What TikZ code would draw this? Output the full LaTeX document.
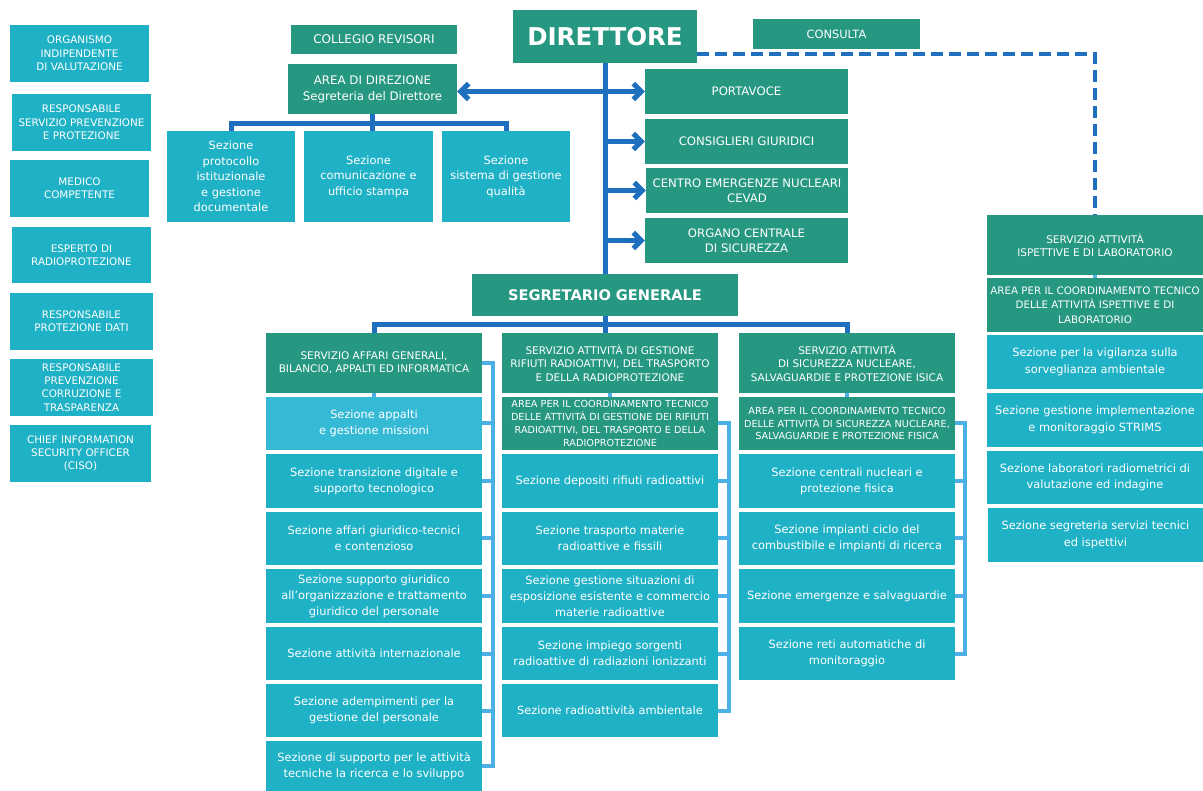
\documentclass[tikz,border=0pt]{standalone}
\usepackage{fontspec}
\setmainfont{DejaVu Sans}
\usetikzlibrary{arrows.meta}
\definecolor{verdeorg}{RGB}{38,152,130}
\definecolor{cianoorg}{RGB}{31,177,198}
\definecolor{cianochiaro}{RGB}{52,186,212}
\definecolor{bluorg}{RGB}{30,112,190}
\definecolor{azzurroorg}{RGB}{76,176,230}
\newcommand\fsz[2]{\fontsize{#1}{#2}\selectfont}

\begin{document}
\begin{tikzpicture}[x=1pt, y=-1pt, line join=miter,
  >={Straight Barb[length=8pt,width=16pt]},
  box/.style 2 args={inner sep=0pt, align=center, text=white, minimum width=#1pt, minimum height=#2pt},
  verde/.style={fill=verdeorg},
  ciano/.style={fill=cianoorg},
  staff/.style={ciano, font=\fsz{10.4}{13.3}},
  staffdir/.style={verde, font=\fsz{11.7}{15}},
  sezdir/.style={ciano, font=\fsz{11.4}{15.4}},
  capo/.style={verde, font=\fsz{10.5}{13.3}},
  area/.style={verde, font=\fsz{9.7}{12.7}},
  sez/.style={ciano, font=\fsz{11.4}{16}},
  linea/.style={draw=bluorg, line width=5pt},
  ramo/.style={draw=azzurroorg, line width=4pt},
  tratteggio/.style={draw=bluorg, line width=4pt, dash pattern=on 12pt off 6pt}]
  \fill[white] (0,0) rectangle (1203,791);
  \useasboundingbox (0,0) rectangle (1203,791);

  % organi di staff a sinistra
  \node[box={139}{57},staff] (oiv) at (79.5,53.5) {ORGANISMO\\INDIPENDENTE\\DI VALUTAZIONE};
  \node[box={139}{57},staff] (rspp) at (81.5,122.5) {RESPONSABILE\\SERVIZIO PREVENZIONE\\E PROTEZIONE};
  \node[box={139}{57},staff] (medico) at (79.5,188.5) {MEDICO\\COMPETENTE};
  \node[box={139}{56},staff] (esperto) at (81.5,255) {ESPERTO DI\\RADIOPROTEZIONE};
  \node[box={143}{57},staff] (rpd) at (81.5,321.5) {RESPONSABILE\\PROTEZIONE DATI};
  \node[box={143}{57},staff] (rpct) at (81.5,387.5) {RESPONSABILE\\PREVENZIONE\\CORRUZIONE E\\TRASPARENZA};
  \node[box={141}{57},staff] (ciso) at (80.5,453.5) {CHIEF INFORMATION\\SECURITY OFFICER\\(CISO)};

  % vertice
  \node[box={184}{53},verde,font=\fsz{24.5}{28}\bfseries] (direttore) at (605,36.5) {DIRETTORE};
  \node[box={166}{29},verde,font=\fsz{12}{14}] (collegio) at (374,39.5) {COLLEGIO REVISORI};
  \node[box={169}{50},verde,font=\fsz{11.8}{16}] (areadir) at (372.5,89) {AREA DI DIREZIONE\\Segreteria del Direttore};
  \node[box={167}{30},verde,font=\fsz{11.4}{14}] (consulta) at (836.5,34) {CONSULTA};
  \node[box={203}{45},staffdir] (portavoce) at (746.5,91.5) {PORTAVOCE};
  \node[box={203}{45},staffdir] (consiglieri) at (746.5,141.5) {CONSIGLIERI GIURIDICI};
  \node[box={202}{45},staffdir] (cevad) at (747,190.5) {CENTRO EMERGENZE NUCLEARI\\CEVAD};
  \node[box={203}{45},staffdir] (ocs) at (746.5,240.5) {ORGANO CENTRALE\\DI SICUREZZA};

  \node[box={128}{91},sezdir] (sprot) at (231,176.5) {Sezione\\protocollo\\istituzionale\\e gestione\\documentale};
  \node[box={129}{91},sezdir] (scom) at (368.5,176.5) {Sezione\\comunicazione e\\ufficio stampa};
  \node[box={128}{91},sezdir] (squal) at (506,176.5) {Sezione\\sistema di gestione\\qualità};

  \node[box={266}{42},verde,font=\fsz{14.6}{17}\bfseries] (segretario) at (605,295) {SEGRETARIO GENERALE};

  % servizio affari generali
  \node[box={216}{60},capo] (sa0) at (374,363) {SERVIZIO AFFARI GENERALI,\\BILANCIO, APPALTI ED INFORMATICA};
  \node[box={216}{53},sez,fill=cianochiaro] (sa1) at (374,423.5) {Sezione appalti\\e gestione missioni};
  \node[box={216}{54},sez] (sa2) at (374,481) {Sezione transizione digitale e\\supporto tecnologico};
  \node[box={216}{53},sez] (sa3) at (374,538.5) {Sezione affari giuridico-tecnici\\e contenzioso};
  \node[box={216}{54},sez] (sa4) at (374,596) {Sezione supporto giuridico\\all’organizzazione e trattamento\\giuridico del personale};
  \node[box={216}{53},sez] (sa5) at (374,653.5) {Sezione attività internazionale};
  \node[box={216}{53},sez] (sa6) at (374,710.5) {Sezione adempimenti per la\\gestione del personale};
  \node[box={216}{50},sez] (sa7) at (374,766) {Sezione di supporto per le attività\\tecniche la ricerca e lo sviluppo};

  % servizio rifiuti radioattivi
  \node[box={216}{60},capo] (sr0) at (610,363) {SERVIZIO ATTIVITÀ DI GESTIONE\\RIFIUTI RADIOATTIVI, DEL TRASPORTO\\E DELLA RADIOPROTEZIONE};
  \node[box={216}{53},area] (sr1) at (610,423.5) {AREA PER IL COORDINAMENTO TECNICO\\DELLE ATTIVITÀ DI GESTIONE DEI RIFIUTI\\RADIOATTIVI, DEL TRASPORTO E DELLA\\RADIOPROTEZIONE};
  \node[box={216}{54},sez] (sr2) at (610,481) {Sezione depositi rifiuti radioattivi};
  \node[box={216}{53},sez] (sr3) at (610,538.5) {Sezione trasporto materie\\radioattive e fissili};
  \node[box={216}{54},sez] (sr4) at (610,596) {Sezione gestione situazioni di\\esposizione esistente e commercio\\materie radioattive};
  \node[box={216}{53},sez] (sr5) at (610,653.5) {Sezione impiego sorgenti\\radioattive di radiazioni ionizzanti};
  \node[box={216}{53},sez] (sr6) at (610,710.5) {Sezione radioattività ambientale};

  % servizio sicurezza nucleare
  \node[box={216}{60},capo] (ss0) at (847,363) {SERVIZIO ATTIVITÀ\\DI SICUREZZA NUCLEARE,\\SALVAGUARDIE E PROTEZIONE ISICA};
  \node[box={216}{53},area] (ss1) at (847,423.5) {AREA PER IL COORDINAMENTO TECNICO\\DELLE ATTIVITÀ DI SICUREZZA NUCLEARE,\\SALVAGUARDIE E PROTEZIONE FISICA};
  \node[box={216}{54},sez] (ss2) at (847,481) {Sezione centrali nucleari e\\protezione fisica};
  \node[box={216}{53},sez] (ss3) at (847,538.5) {Sezione impianti ciclo del\\combustibile e impianti di ricerca};
  \node[box={216}{54},sez] (ss4) at (847,596) {Sezione emergenze e salvaguardie};
  \node[box={216}{53},sez] (ss5) at (847,653.5) {Sezione reti automatiche di\\monitoraggio};

  % servizio ispettivo
  \node[box={216}{60},capo] (si0) at (1095,245) {SERVIZIO ATTIVITÀ\\ISPETTIVE E DI LABORATORIO};
  \node[box={216}{54},verde,font=\fsz{10.3}{14.3}] (si1) at (1095,305) {AREA PER IL COORDINAMENTO TECNICO\\DELLE ATTIVITÀ ISPETTIVE E DI\\LABORATORIO};
  \node[box={216}{54},sez,font=\fsz{11.4}{16.5}] (si2) at (1095,362) {Sezione per la vigilanza sulla\\sorveglianza ambientale};
  \node[box={216}{54},sez,font=\fsz{11.4}{16.5}] (si3) at (1095,420) {Sezione gestione implementazione\\e monitoraggio STRIMS};
  \node[box={216}{53},sez,font=\fsz{11.4}{16.5}] (si4) at (1095,477.5) {Sezione laboratori radiometrici di\\valutazione ed indagine};
  \node[box={215}{54},sez,font=\fsz{11.4}{16.5}] (si5) at (1095.5,535) {Sezione segreteria servizi tecnici\\ed ispettivi};

  % collegamenti del vertice
  \draw[linea] (direttore) -- (segretario);
  \draw[linea,<->] (areadir.east |- portavoce.west) -- (portavoce.west);
  \draw[linea,->] (direttore.south |- consiglieri.west) -- (consiglieri.west);
  \draw[linea,->] (direttore.south |- cevad.west) -- (cevad.west);
  \draw[linea,->] (direttore.south |- ocs.west) -- (ocs.west);
  \draw[linea] (areadir.south) -- (areadir.south |- scom.north);
  \draw[linea] (sprot.north) -- ++(0,-7) -| (squal.north);
  \draw[linea] (segretario.south) -- (segretario.south |- sr0.north);
  \draw[linea] (sa0.north) -- ++(0,-8) -| (ss0.north);
  \draw[tratteggio] (direttore.east |- 0,54) -| (si0.north);

  % raccordi interni ai servizi
  \coordinate (brsa) at (493,0);
  \coordinate (brsr) at (729,0);
  \coordinate (brss) at (965,0);
  \draw[ramo] (sa0) -- (sa1);
  \draw[ramo] (sr0) -- (sr1);
  \draw[ramo] (ss0) -- (ss1);
  \draw[ramo] (si0) -- (si1);
  \draw[ramo] (sa0.east) -- (sa0.east -| brsa) -- (sa7.east -| brsa) -- (sa7.east);
  \foreach \i in {1,...,6} \draw[ramo] (sa\i.east) -- (sa\i.east -| brsa);
  \draw[ramo] (sr1.east) -- (sr1.east -| brsr) -- (sr6.east -| brsr) -- (sr6.east);
  \foreach \i in {2,...,5} \draw[ramo] (sr\i.east) -- (sr\i.east -| brsr);
  \draw[ramo] (ss1.east) -- (ss1.east -| brss) -- (ss5.east -| brss) -- (ss5.east);
  \foreach \i in {2,...,4} \draw[ramo] (ss\i.east) -- (ss\i.east -| brss);
\end{tikzpicture}
\end{document}
